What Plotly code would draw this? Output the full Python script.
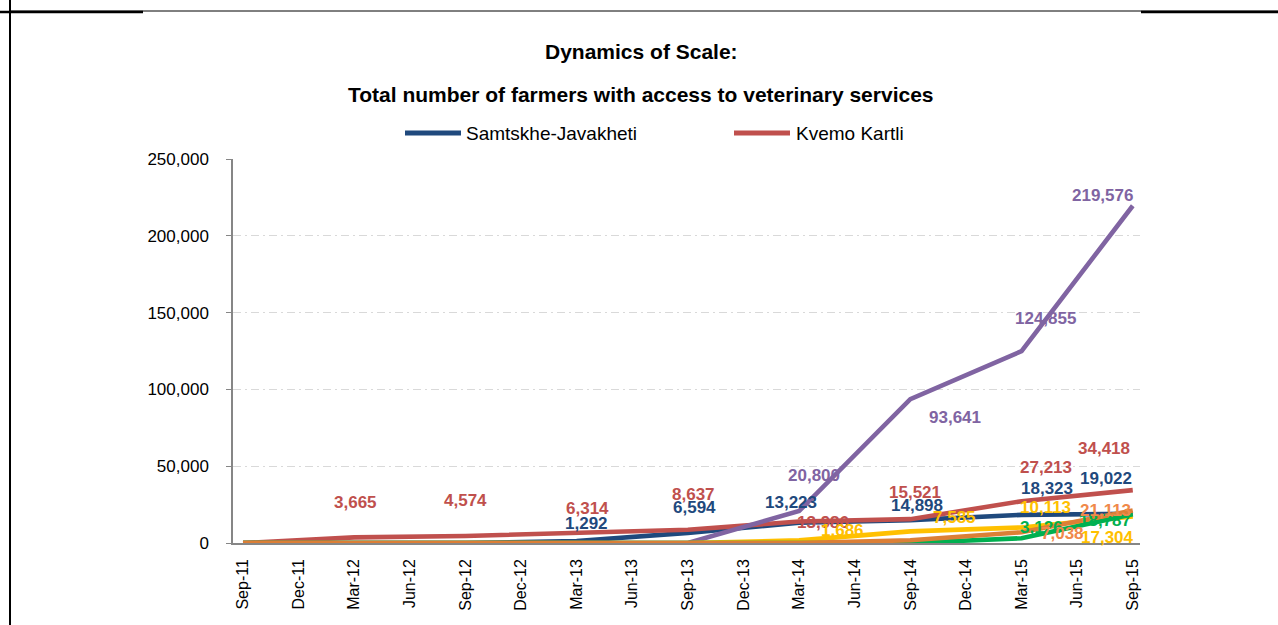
import plotly.graph_objects as go

# ---------------- data ----------------
quarters = ["Sep-11", "Dec-11", "Mar-12", "Jun-12", "Sep-12", "Dec-12", "Mar-13", "Jun-13",
            "Sep-13", "Dec-13", "Mar-14", "Jun-14", "Sep-14", "Dec-14", "Mar-15", "Jun-15", "Sep-15"]
N = None
samtskhe_javakheti = [0, N, 0, N, 0, N, 1292, N, 6594, N, 13223, N, 14898, N, 18323, N, 19022]
kvemo_kartli       = [0, N, 3665, N, 4574, N, 6314, N, 8637, N, 13986, N, 15521, N, 27213, N, 34418]
region_purple      = [0, N, 0, N, 0, N, 0, N, 0, N, 20800, N, 93641, N, 124855, N, 219576]
region_yellow      = [0, N, 0, N, 0, N, 0, N, 0, N, 1686, N, 7585, N, 10113, N, 17304]
region_green       = [0, N, 0, N, 0, N, 0, N, 0, N, 0, N, 0, N, 3126, N, 18787]
region_orange      = [0, N, 0, N, 0, N, 0, N, 0, N, 0, N, 1800, N, 7038, N, 21113]

y_ticks = [0, 50000, 100000, 150000, 200000, 250000]

# ---------------- styles ----------------
FONT = "Liberation Sans, Arial, sans-serif"
series = [
    ("Samtskhe-Javakheti", samtskhe_javakheti, "#1F497D", "#1F497D"),
    ("Kvemo Kartli", kvemo_kartli, "#C0504D", "#C0504D"),
    ("Region 3", region_purple, "#8064A2", "#8064A2"),
    ("Region 4", region_yellow, "#FFC000", "#FFC000"),
    ("Region 5", region_green, "#00B050", "#00B050"),
    ("Region 6", region_orange, "#DC7F36", "#F0894A"),
]

# label pixel offsets (xshift, yshift) per series / quarter
label_offsets = {
    "Samtskhe-Javakheti": {"Mar-13": (10, 18), "Sep-13": (7, 25), "Mar-14": (-8, 20),
                           "Sep-14": (7, 15), "Mar-15": (25, 26), "Sep-15": (-27, 35)},
    "Kvemo Kartli": {"Mar-12": (1, 35), "Sep-12": (0, 35), "Mar-13": (11, 25), "Sep-13": (6, 35),
                     "Mar-14": (24, -1), "Sep-14": (5, 27), "Mar-15": (24, 34), "Sep-15": (-29, 42)},
    "Region 3": {"Mar-14": (15, 36), "Sep-14": (45, -18), "Mar-15": (24, 33), "Sep-15": (-30, 10)},
    "Region 4": {"Mar-14": (43, 10), "Sep-14": (44, 14), "Mar-15": (24, 20), "Sep-15": (-25, -21)},
    "Region 5": {"Mar-15": (20, 11), "Sep-15": (-28, -6)},
    "Region 6": {"Mar-15": (41, -1), "Sep-15": (-27, 0)},
}

# plot-area geometry in pixels
L, R, T, B = 233, 138, 159, 82
W_PLOT = 1278 - L - R
H_PLOT = 625 - T - B


def px(x):
    return (x - L) / W_PLOT


def py(y):
    return (625 - B - y) / H_PLOT


fig = go.Figure()
annotations = []

for name, vals, lcolor, tcolor in series:
    fig.add_trace(go.Scatter(
        x=quarters, y=vals, name=name, mode="lines", connectgaps=True,
        line=dict(color=lcolor, width=4.6), showlegend=False, hoverinfo="skip"))

for name, vals, lcolor, tcolor in series:
    offs = label_offsets.get(name, {})
    for q, v in zip(quarters, vals):
        if v is None or q not in offs:
            continue
        dx, dy = offs[q]
        annotations.append(dict(
            x=q, y=v, xref="x", yref="y", text=f"{v:,}", showarrow=False,
            xshift=dx, yshift=dy, xanchor="center", yanchor="middle",
            font=dict(family=FONT, size=17, color=tcolor, weight="bold")))

# titles
annotations.append(dict(x=px(641), y=py(51), xref="paper", yref="paper",
                        text="Dynamics of Scale:", showarrow=False,
                        xanchor="center", yanchor="middle",
                        font=dict(family=FONT, size=21, color="#000000", weight="bold")))
annotations.append(dict(x=px(641), y=py(94), xref="paper", yref="paper",
                        text="Total number of farmers with access to veterinary services",
                        showarrow=False, xanchor="center", yanchor="middle",
                        font=dict(family=FONT, size=21, color="#000000", weight="bold")))

shapes = []
# manual legend (first two series only)
legend_items = [(series[0], 405, 461, 464), (series[1], 734, 790, 794)]
for (name, vals, lcolor, tcolor), x0, x1, xt in legend_items:
    shapes.append(dict(type="line", xref="paper", yref="paper",
                       x0=px(x0), x1=px(x1), y0=py(133), y1=py(133),
                       line=dict(color=lcolor, width=5)))
    annotations.append(dict(x=px(xt), y=py(133), xref="paper", yref="paper",
                            text=name, showarrow=False, xanchor="left", yanchor="middle",
                            font=dict(family=FONT, size=19, color="#000000")))

# document frame lines
shapes.append(dict(type="line", xref="paper", yref="paper", x0=px(10), x1=px(10),
                   y0=py(0), y1=py(625), line=dict(color="#000000", width=2)))
shapes.append(dict(type="line", xref="paper", yref="paper", x0=px(10), x1=px(1278),
                   y0=py(11), y1=py(11), line=dict(color="#000000", width=1)))
shapes.append(dict(type="line", xref="paper", yref="paper", x0=px(0), x1=px(143),
                   y0=py(12), y1=py(12), line=dict(color="#000000", width=2.5)))
shapes.append(dict(type="line", xref="paper", yref="paper", x0=px(1141), x1=px(1278),
                   y0=py(12), y1=py(12), line=dict(color="#000000", width=2.5)))

fig.update_layout(
    width=1278, height=625,
    margin=dict(l=L, r=R, t=T, b=B, autoexpand=False),
    paper_bgcolor="#FFFFFF", plot_bgcolor="#FFFFFF",
    showlegend=False, hovermode=False,
    annotations=annotations, shapes=shapes,
    font=dict(family=FONT, color="#000000"),
    xaxis=dict(type="category", categoryorder="array", categoryarray=quarters,
               range=[-0.18, 16.13], showgrid=False, zeroline=False,
               showline=True, linecolor="#868686", linewidth=1.5,
               ticks="", tickangle=-90, ticklabelstandoff=8,
               tickfont=dict(family=FONT, size=16, color="#000000")),
    yaxis=dict(range=[0, 250000], tickvals=y_ticks, tickformat=",",
               showgrid=True, gridcolor="#D9D9D9", griddash="8px,4px,2px,4px", gridwidth=1,
               zeroline=False, showline=True, linecolor="#868686", linewidth=1.5,
               ticks="outside", ticklen=5, tickcolor="#868686", ticklabelstandoff=14,
               tickfont=dict(family=FONT, size=17, color="#000000")),
)

fig.write_html("out.html")
